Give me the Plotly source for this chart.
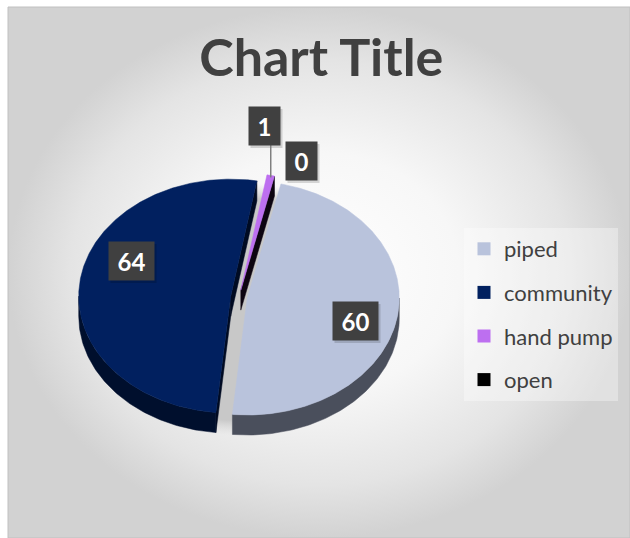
import numpy as np
import plotly.graph_objects as go

# ---- data ----
categories = ["piped", "community", "hand pump", "open"]
values = [60, 64, 1, 0]
top_colors = ["#b9c3dc", "#01205f", "#bd6ff0", "#000000"]
side_colors = ["#4a4f5c", "#000f2d", "#2a0f3a", "#000000"]
wall_colors = ["#3d414d", "#000b22", "#0d0510", "#000000"]

# ---- canvas / pie geometry (pixel units) ----
W, H = 630, 538
CX, CY = 239, 297          # pie centre
RX, RY = 152, 117          # top ellipse radii
DEPTH = 20                 # thickness of the 3-D pie
FIRST_ANGLE = 12.8         # angle of the first slice (deg, clockwise from top)
EXPLODE = [0.055, 0.055, 0.06, 0.06]

# label centres
label_xy = {"piped": (355, 321), "community": (131, 261),
            "hand pump": (264, 126), "open": (301, 161)}


def rim(cx, cy, ang_deg, dy=0.0, sx=1.0, sy=1.0):
    a = np.radians(ang_deg)
    return cx + sx * RX * np.sin(a), cy - sy * RY * np.cos(a) + dy


def arc(cx, cy, a0, a1, dy=0.0, step=1.0, sx=1.0, sy=1.0):
    n = max(2, int(abs(a1 - a0) / step) + 2)
    angs = np.linspace(a0, a1, n)
    xs, ys = rim(cx, cy, angs, dy, sx, sy)
    return list(xs), list(ys)


fig = go.Figure()

# chart-area background with a radial light-to-grey gradient
fig.add_trace(go.Scatter(
    x=[8, W, W, 8, 8], y=[7, 7, H, H, 7], mode="lines", fill="toself",
    line=dict(color="#c0c0c0", width=1),
    fillgradient=dict(type="radial",
                      colorscale=[[0, "#ffffff"], [0.45, "#f7f7f7"], [0.8, "#e4e4e4"],
                                  [1, "#d2d2d2"]]),
    hoverinfo="skip", showlegend=False))

# soft shadow halo under the pie
sx, sy = arc(CX, CY + 12, 0, 360, step=2, sx=1.06, sy=1.08)
fig.add_trace(go.Scatter(
    x=sx, y=sy, mode="lines", fill="toself", line=dict(width=0),
    fillgradient=dict(type="radial",
                      colorscale=[[0, "rgba(200,200,200,1)"], [0.88, "rgba(200,200,200,1)"],
                                  [1, "rgba(215,215,215,0)"]]),
    hoverinfo="skip", showlegend=False))

total = float(sum(values))
slices = []
acc = FIRST_ANGLE
for i, v in enumerate(values):
    a0 = acc
    a1 = acc + 360.0 * v / total
    acc = a1
    bis = np.radians((a0 + a1) / 2)
    ox = EXPLODE[i] * RX * np.sin(bis)
    oy = -EXPLODE[i] * RY * np.cos(bis)
    slices.append((i, a0, a1, CX + ox, CY + oy))

walls, sides, tops = [], [], []
for i, a0, a1, cx, cy in slices:
    if a1 - a0 <= 0:
        continue
    # radial walls facing the viewer
    for a, normal in ((a0, a0 - 90), (a1, a1 + 90)):
        if np.cos(np.radians(normal)) < 0:
            rx_, ry_ = rim(cx, cy, a)
            xs = [cx, rx_, rx_, cx, cx]
            ys = [cy, ry_, ry_ + DEPTH, cy + DEPTH, cy]
            walls.append((max(ys), xs, ys, wall_colors[i]))
    # outer side (front half only)
    for k in (0, 1):
        lo, hi = max(a0, 90 + 360 * k), min(a1, 270 + 360 * k)
        if hi > lo:
            tx, ty = arc(cx, cy, lo, hi)
            bx, by = arc(cx, cy, hi, lo, dy=DEPTH)
            sides.append((tx + bx + [tx[0]], ty + by + [ty[0]], side_colors[i]))
    # top face
    tx, ty = arc(cx, cy, a0, a1, step=0.5)
    tops.append(([cx] + tx + [cx], [cy] + ty + [cy], top_colors[i]))

for _, xs, ys, c in sorted(walls, key=lambda w: w[0]):
    fig.add_trace(go.Scatter(x=xs, y=ys, mode="lines", fill="toself", fillcolor=c,
                             line=dict(color=c, width=0.5), hoverinfo="skip", showlegend=False))
for xs, ys, c in sides + tops:
    fig.add_trace(go.Scatter(x=xs, y=ys, mode="lines", fill="toself", fillcolor=c,
                             line=dict(color=c, width=0.5), hoverinfo="skip", showlegend=False))

# legend entries
for cat, c in zip(categories, top_colors):
    fig.add_trace(go.Scatter(x=[None], y=[None], mode="markers", name=cat, legendgroup=cat,
                             marker=dict(symbol="square", size=13, color=c)))

# value labels, each with a faint drop shadow drawn as a shape
annotations = []
shapes = []
BOX_H = 38
for cat, v in zip(categories, values):
    lx, ly = label_xy[cat]
    txt = str(v)
    bw = 31 if len(txt) == 1 else 45
    shapes.append(dict(type="rect", xref="x", yref="y",
                       x0=lx - bw / 2 + 2, x1=lx + bw / 2 + 3,
                       y0=ly - BOX_H / 2 + 2, y1=ly + BOX_H / 2 + 3,
                       fillcolor="rgba(0,0,0,0.15)", line=dict(width=0), layer="above"))
    annotations.append(dict(
        x=lx, y=ly, xref="x", yref="y", text="<b>%s</b>" % txt, showarrow=False,
        width=bw, height=BOX_H, borderpad=0,
        bgcolor="#404040", font=dict(family="Lato", size=24, color="white")))

# leader line for the small slice label
hx, hy = label_xy["hand pump"]
hp = slices[2]
tipx, tipy = rim(hp[3], hp[4], (hp[1] + hp[2]) / 2)
shapes.append(dict(type="line", xref="x", yref="y", x0=tipx, x1=tipx,
                   y0=hy + 19, y1=tipy + 2, line=dict(color="#7f7f7f", width=1.5),
                   layer="above"))

fig.update_layout(
    width=W, height=H,
    margin=dict(l=0, r=0, t=0, b=0),
    paper_bgcolor="white", plot_bgcolor="white",
    xaxis=dict(range=[0, W], visible=False, fixedrange=True),
    yaxis=dict(range=[H, 0], visible=False, fixedrange=True),
    title=dict(text="<b>Chart Title</b>", x=0.51, xanchor="center",
               y=1 - 58 / H, yanchor="middle", yref="container",
               font=dict(family="Lato", size=52, color="#404040")),
    legend=dict(x=464 / W, y=1 - 228 / H, xanchor="left", yanchor="top",
                bgcolor="rgba(255,255,255,0.35)", tracegroupgap=12,
                font=dict(family="Lato", size=22, color="#404040"), itemwidth=30),
    shapes=shapes,
    annotations=annotations,
    showlegend=True,
)

fig.write_html("out.html")
